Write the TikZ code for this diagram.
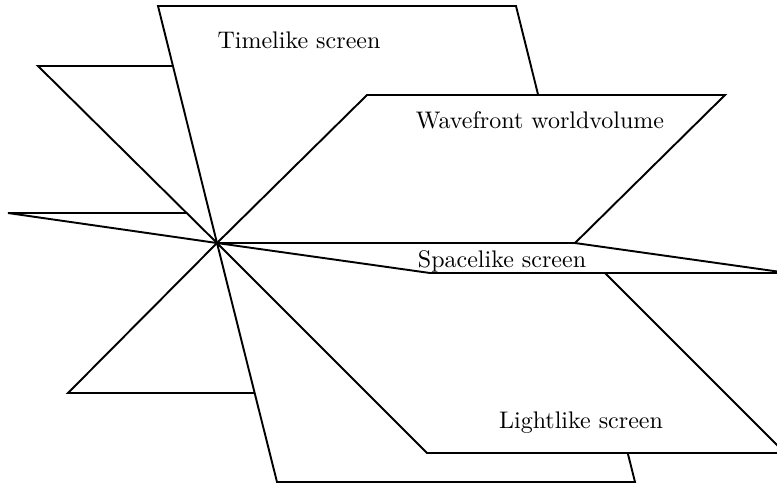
\documentclass[tikz,border=0pt]{standalone}
\begin{document}
\begin{tikzpicture}[x=0.41667pt,y=-0.41667pt,
  plane/.style={draw=black,fill=white,line width=0.8pt},
  lbl/.style={anchor=base,inner sep=0pt}]
\useasboundingbox (0,0) rectangle (777,486);
\clip (0,0) rectangle (777,486);
\coordinate (O) at (217,243);
\coordinate (E) at (575,243);
% upper half-planes, back to front
\draw[plane] (O) -- (E) -- ++(-209,-30) -- ++(-358,0) -- cycle; % spacelike (left)
\draw[plane] (O) -- (E) -- ++(-179,-177) -- ++(-358,0) -- cycle; % lightlike (up)
\draw[plane] (O) -- (E) -- ++(-59,-237) -- ++(-358,0) -- cycle; % timelike (up)
\draw[plane] (O) -- (E) -- ++(150,-148) -- ++(-358,0) -- cycle; % wavefront (up)
% lower half-planes, back to front
\draw[plane] (O) -- (E) -- ++(-149,150) -- ++(-358,0) -- cycle; % wavefront (down)
\draw[plane] (O) -- (E) -- ++(60,239) -- ++(-358,0) -- cycle; % timelike (down)
\draw[plane] (O) -- (E) -- ++(210,210) -- ++(-358,0) -- cycle; % lightlike (down)
\draw[plane] (O) -- (E) -- ++(213,30) -- ++(-358,0) -- cycle; % spacelike (right)
% labels
\node[lbl] (tl) at (299,48) {Timelike screen};
\node[lbl] (wf) at (540,128) {Wavefront worldvolume};
\node[lbl] (sl) at (502,267) {Spacelike screen};
\node[lbl] (ll) at (581,428) {Lightlike screen};
\end{tikzpicture}
\end{document}
